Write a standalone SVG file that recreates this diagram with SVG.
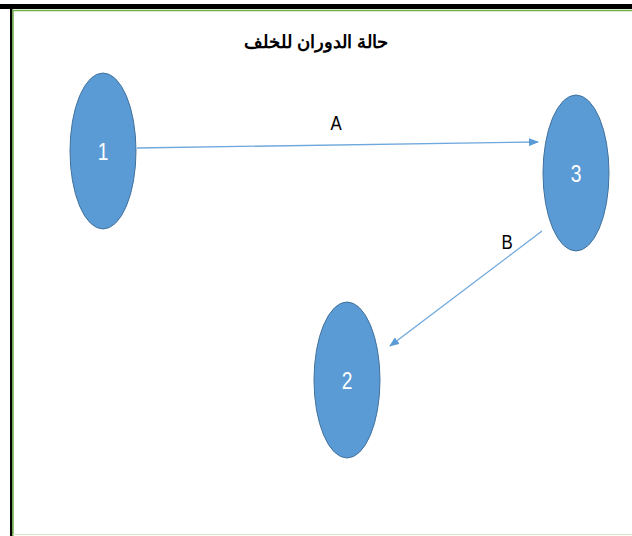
<svg xmlns="http://www.w3.org/2000/svg" width="632" height="536" viewBox="0 0 632 536">
<defs>
<style>
.node{fill:#5b9bd5;stroke:#41719c;stroke-width:1}
.nlabel{font-family:"Liberation Sans",Arial,sans-serif;font-size:24px;fill:#ffffff;text-anchor:middle}
.elabel{font-family:"Liberation Sans",Arial,sans-serif;font-size:21px;fill:#000000;text-anchor:middle}
.edge{stroke:#6fa8dc;stroke-width:1.3;fill:none}
</style>
<marker id="arr" markerWidth="10" markerHeight="8" refX="9" refY="4" orient="auto" markerUnits="userSpaceOnUse">
<path d="M0,0 L10,4 L0,8 z" fill="#5b9bd5"/>
</marker>
</defs>
<rect x="0" y="0" width="632" height="536" fill="#ffffff"/>
<rect x="0" y="4" width="632" height="5" fill="#000000"/>
<rect x="10" y="4" width="2.5" height="532" fill="#000000"/>
<line x1="12" y1="10.5" x2="632" y2="10.5" stroke="#70ad47" stroke-width="1.5"/>
<line x1="13" y1="10" x2="13" y2="536" stroke="#70ad47" stroke-width="1.5"/>
<line x1="13" y1="534.5" x2="632" y2="534.5" stroke="#d5e8c8" stroke-width="1"/>
<text x="316" y="48" font-family="'Liberation Sans',Arial,'Noto Sans',sans-serif" font-size="18" font-weight="bold" text-anchor="middle" direction="rtl" fill="#000">حالة الدوران للخلف</text>
<g id="connectors">
<line class="edge" x1="137" y1="148" x2="538" y2="142" marker-end="url(#arr)"/>
<line class="edge" x1="542" y1="231" x2="390" y2="346" marker-end="url(#arr)"/>
<text class="elabel" transform="translate(336,130) scale(0.8,1)">A</text>
<text class="elabel" transform="translate(507,249) scale(0.8,1)">B</text>
</g>
<g id="node1">
<ellipse class="node" cx="103" cy="151" rx="33" ry="78"/>
<text class="nlabel" transform="translate(103,160) scale(0.8,1)">1</text>
</g>
<g id="node3">
<ellipse class="node" cx="576" cy="173" rx="33" ry="78"/>
<text class="nlabel" transform="translate(576,182) scale(0.8,1)">3</text>
</g>
<g id="node2">
<ellipse class="node" cx="347" cy="380" rx="33" ry="78"/>
<text class="nlabel" transform="translate(347,389) scale(0.8,1)">2</text>
</g>
</svg>
